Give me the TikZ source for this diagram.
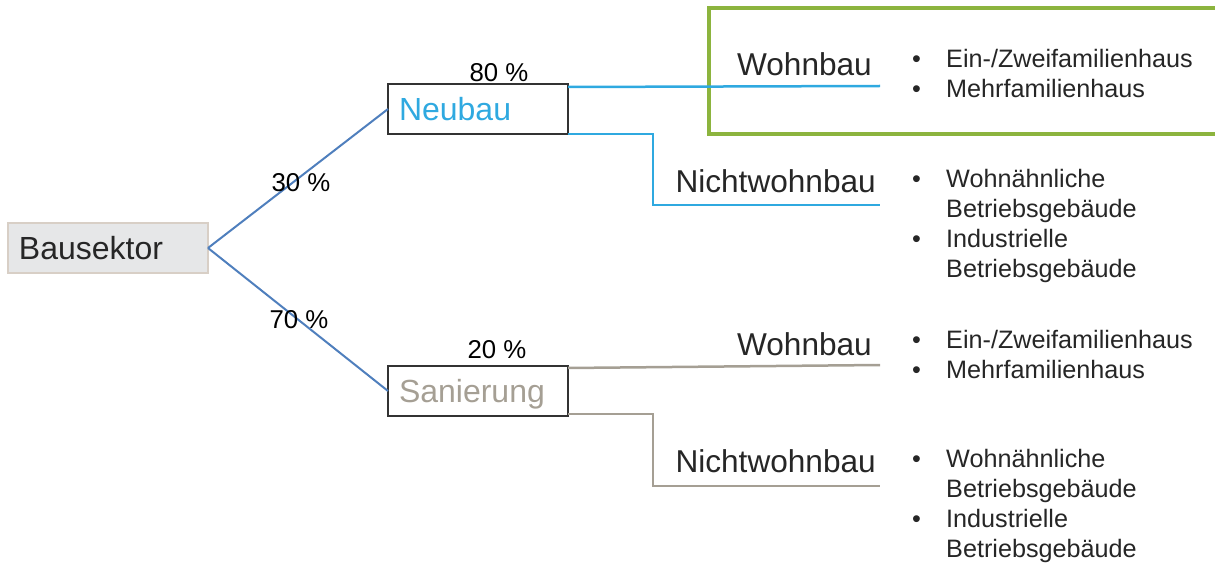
\documentclass[tikz,border=0pt]{standalone}
\usepackage{fontspec}
\setmainfont{Liberation Sans}
\usepackage{array}
\definecolor{txt}{HTML}{262626}
\definecolor{boxborder}{HTML}{333333}
\definecolor{bausfill}{HTML}{E6E7E8}
\definecolor{bausborder}{HTML}{D8CFC6}
\definecolor{neublue}{HTML}{2FA9E0}
\definecolor{steel}{HTML}{4F7FBD}
\definecolor{sangray}{HTML}{A59F94}
\definecolor{focusgreen}{HTML}{8CB43E}
\tikzset{
  box/.style={draw=boxborder, line width=1.5pt, anchor=north west, outer sep=0pt,
    minimum width=180pt, minimum height=50pt, inner xsep=11pt, inner ysep=0pt,
    text width=158pt, align=left, text height=23.2pt, text depth=0pt,
    font=\fontsize{32}{38}\selectfont},
  lab/.style={font=\fontsize{31.6}{38}\selectfont, text=txt, inner sep=0pt, anchor=base east},
  pct/.style={font=\fontsize{25.8}{30}\selectfont, text=black, inner sep=0pt, anchor=base},
  itemlist/.style={font=\fontsize{25.2}{30}\selectfont, text=txt, inner sep=0pt, anchor=base west},
  conB/.style={draw=steel, line width=2pt},
  conN/.style={draw=neublue, line width=2.5pt},
  conS/.style={draw=sangray, line width=2.5pt},
}
\newcommand\bulletcell{\makebox[34pt][l]{•}}
\begin{document}
\begin{tikzpicture}[x=1pt,y=-1pt]
\useasboundingbox (0,0) rectangle (1215,564);
% highlight frame
\draw[draw=focusgreen, line width=3.5pt] (1220,8) -- (709,8) -- (709,134) -- (1220,134);
% boxes
\node[box, draw=bausborder, fill=bausfill, minimum width=200pt, text width=178pt, text=txt] (baus) at (8,223) {Bausektor};
\node[box, text=neublue] (neu) at (388,84) {Neubau};
\node[box, text=sangray] (san) at (388,366) {Sanierung};
% coordinates for free ends
\coordinate (wend1) at (880,86);
\coordinate (nwend1) at (880,205);
\coordinate (wend2) at (880,365);
\coordinate (nwend2) at (880,486);
% connectors
\draw[conB] (baus.east) -- (neu.west);
\draw[conB] (baus.east) -- (san.west);
\draw[conN] ([yshift=-3pt]neu.north east) -- (wend1);
\draw[conN] (neu.south east) -- ++(85,0) |- (nwend1);
\draw[conS] ([yshift=-2pt]san.north east) -- (wend2);
\draw[conS] ([yshift=2pt]san.south east) -- ++(85,0) |- (nwend2);
% percentages
\node[pct] (p80) at (499,82) {80 \%};
\node[pct] (p30) at (301,192) {30 \%};
\node[pct] (p70) at (299,328) {70 \%};
\node[pct] (p20) at (497,358) {20 \%};
% category labels
\node[lab] (wb1) at (872,76) {Wohnbau};
\node[lab] (nwb1) at (876,193) {Nichtwohnbau};
\node[lab] (wb2) at (872,355) {Wohnbau};
\node[lab] (nwb2) at (876,472) {Nichtwohnbau};
% lists
\node[itemlist] (l1) at (912,68) {\begin{tabular}[t]{@{}l@{}l@{}}
\bulletcell & Ein-/Zweifamilienhaus\\
\bulletcell & Mehrfamilienhaus
\end{tabular}};
\node[itemlist] (l2) at (912,188) {\begin{tabular}[t]{@{}l@{}l@{}}
\bulletcell & Wohnähnliche\\
 & Betriebsgebäude\\
\bulletcell & Industrielle\\
 & Betriebsgebäude
\end{tabular}};
\node[itemlist] (l3) at (912,348) {\begin{tabular}[t]{@{}l@{}l@{}}
\bulletcell & Ein-/Zweifamilienhaus\\
\bulletcell & Mehrfamilienhaus
\end{tabular}};
\node[itemlist] (l4) at (912,467) {\begin{tabular}[t]{@{}l@{}l@{}}
\bulletcell & Wohnähnliche\\
 & Betriebsgebäude\\
\bulletcell & Industrielle\\
 & Betriebsgebäude
\end{tabular}};
\end{tikzpicture}
\end{document}
